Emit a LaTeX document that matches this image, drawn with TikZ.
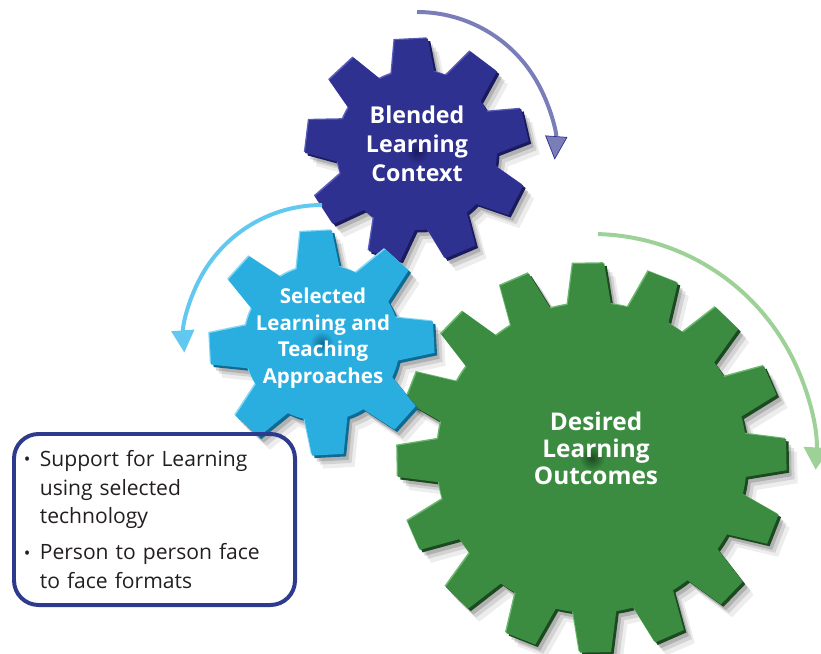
\documentclass[tikz,border=0pt]{standalone}
\usepackage{fontspec}
\setmainfont{Open Sans}
\usepackage{tikz}
\usetikzlibrary{arrows.meta,positioning}

\definecolor{ctxblue}{HTML}{2F3191}
\definecolor{ctxdark}{HTML}{1A1B5E}
\definecolor{ctxlight}{HTML}{5B5DB8}
\definecolor{sltblue}{HTML}{2AAEE0}
\definecolor{sltdark}{HTML}{0E6A92}
\definecolor{sltlight}{HTML}{86D8F5}
\definecolor{outgreen}{HTML}{3B8C41}
\definecolor{outdark}{HTML}{1B4A20}
\definecolor{outlight}{HTML}{6DB870}
\definecolor{arrpurple}{HTML}{7A7EB8}
\definecolor{arrblue}{HTML}{62C8F0}
\definecolor{arrgreen}{HTML}{9DD198}
\definecolor{boxblue}{HTML}{2E3A8C}
\definecolor{textgray}{HTML}{231F20}

% gear outline: teeth, root radius, tip radius, half width at root, half width at tip
\newcommand{\gearpath}[5]{%
  ({-#4}:#2) \foreach \k [evaluate=\k as \a using (\k-1)*360/#1,
      evaluate=\k as \c using (\k-1)*360/#1+#4,
      evaluate=\k as \d using \k*360/#1-#4] in {1,...,#1}{
    -- ({\a-#5}:#3) -- ({\a+#5}:#3) -- (\c:#2)
    arc[start angle=\c, end angle=\d, radius=#2]} -- cycle}

\newcommand{\itemdot}{\makebox[13.5pt][l]{\raisebox{0.5pt}{\fontsize{15}{15}\selectfont\textbullet}}}

\begin{document}
\begin{tikzpicture}[
x=0.03cm, y=-0.03cm,
gearlabel/.style={text=white,align=center,inner sep=0pt},
turn/.style={line width=3.4pt},
notebox/.style={draw=boxblue,line width=3.4pt,rounded corners=21pt,
  minimum width=8.43cm,minimum height=5.13cm,text width=7.83cm,
  inner xsep=0.3cm,align=left,text=textgray,font=\fontsize{18}{24.7}\selectfont}]
    \useasboundingbox (0,0) rectangle (821,654);

    % Desired outcomes gear
    \foreach \dx/\dy/\op/\col in {11/13/0.07/black,8/9/0.11/black,5/6/0.16/black,
        2.5/2.5/1/outdark,-1.2/-1.2/1/outlight,0/0/1/outgreen}{
      \begin{scope}[shift={(592+\dx,458+\dy)},rotate=1]
        \fill[\col,opacity=\op] \gearpath{16}{155}{195}{8}{4.6};
      \end{scope}}
    \shade[inner color=outdark,outer color=outgreen] (592,458) circle[radius=13];

    % Blended context gear
    \foreach \dx/\dy/\op/\col in {11/13/0.07/black,8/9/0.11/black,5/6/0.16/black,
        2.5/2.5/1/ctxdark,-1.2/-1.2/1/ctxlight,0/0/1/ctxblue}{
      \begin{scope}[shift={(417+\dx,150+\dy)},rotate=13]
        \fill[\col,opacity=\op] \gearpath{9}{80}{112}{15.5}{8.5};
      \end{scope}}
    \shade[inner color=ctxdark,outer color=ctxblue] (417,152) circle[radius=12];

    % Selected approaches gear
    \foreach \dx/\dy/\op/\col in {11/13/0.07/black,8/9/0.11/black,5/6/0.16/black,
        2.5/2.5/1/sltdark,-1.2/-1.2/1/sltlight,0/0/1/sltblue}{
      \begin{scope}[shift={(322+\dx,343+\dy)},rotate=3]
        \fill[\col,opacity=\op] \gearpath{8}{78}{113}{16}{8};
      \end{scope}}
    \shade[inner color=sltdark,outer color=sltblue] (322,343) circle[radius=12];

    % Labels on the gears
    \node[gearlabel,font=\bfseries\fontsize{19.8}{24.5}\selectfont] (ctx) at (417,144) {Blended\\Learning\\Context};
    \node[gearlabel,font=\bfseries\fontsize{17.5}{22.7}\selectfont] (slt) at (323,338) {Selected\\Learning and\\Teaching\\Approaches};
    \node[gearlabel,font=\bfseries\fontsize{20.8}{23}\selectfont] (out) at (596,448) {Desired\\Learning\\Outcomes};

    % Turning arrows round each gear
    \coordinate (ctxhub) at (417,150);
    \coordinate (slthub) at (322,343);
    \coordinate (outhub) at (592,458);
    \draw[turn,arrpurple,-{Triangle[width=19pt,length=20pt,fill=arrpurple,color=ctxblue,line width=0.6pt]}]
        (ctxhub) ++(-90:138) arc[start angle=-90,end angle=4,radius=138];
    \draw[turn,arrblue,-{Triangle[width=19pt,length=19pt]}]
        (slthub) ++(-90:138) arc[start angle=-90,end angle=-184,radius=138];
    \draw[turn,arrgreen,-{Triangle[width=22pt,length=19pt]}]
        (outhub) ++(-88.5:224) arc[start angle=-88.5,end angle=3,radius=224];

    % Notes box
    \node[notebox] (notes) at (154.5,519.5) {%
      \itemdot Support for Learning\\
      \hspace*{13.5pt}using selected\\
      \hspace*{13.5pt}technology\\[6pt]
      \itemdot Person to person face\\
      \hspace*{13.5pt}to face formats};
\end{tikzpicture}
\end{document}
